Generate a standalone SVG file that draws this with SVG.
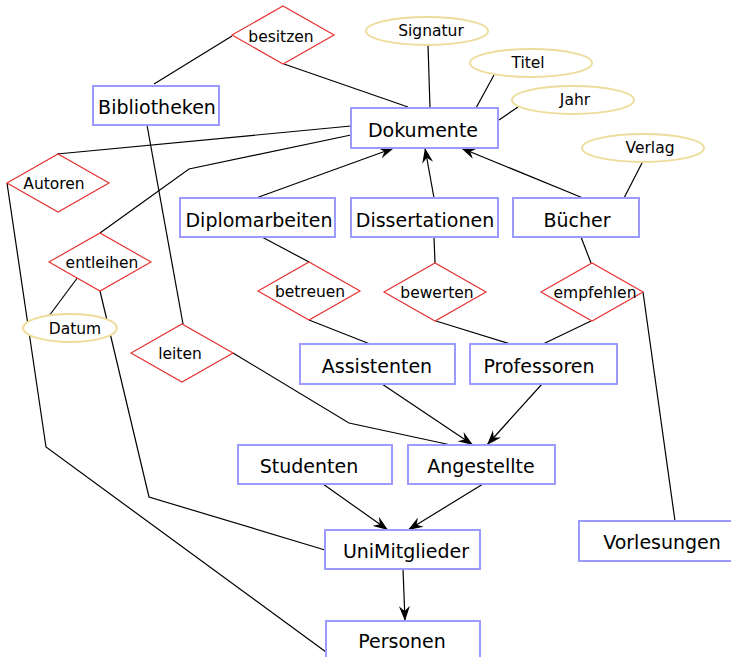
<svg xmlns="http://www.w3.org/2000/svg" width="731" height="657" viewBox="0 0 731 657">
  <style>
    .ent rect { fill: #ffffff; stroke: #9a9aff; stroke-width: 2; }
    .rel polygon { fill: #ffffff; stroke: #e83333; stroke-width: 1.2; }
    .att ellipse { fill: #ffffff; stroke: #eedc9c; stroke-width: 2; }
    text { font-family: "DejaVu Sans", "Liberation Sans", sans-serif; fill: #000000; text-anchor: middle; }
    .ent text { font-size: 19px; }
    .rel text, .att text { font-size: 15.5px; }
    .edges path { fill: none; stroke: #000000; stroke-width: 1.2; }
    .isa { marker-end: url(#arrow); }
  </style>
  <defs>
    <marker id="arrow" viewBox="-15 -6 16 12" refX="0" refY="0" markerWidth="16" markerHeight="12" markerUnits="userSpaceOnUse" orient="auto">
      <path d="M0,0 L-15,-5.5 L-10,0 L-15,5.5 Z" fill="#000000"/>
    </marker>
  </defs>
  <rect width="731" height="657" fill="#ffffff"/>

  <!-- connectors -->
  <g class="edges">
    <path d="M232,36 L154,84"/>
    <path d="M284,64 L408,107"/>
    <path d="M428,45 L430,108"/>
    <path d="M494,75 L476,108"/>
    <path d="M518,107 L499,120"/>
    <path d="M642,163 L624,198"/>
    <path d="M351,126 L57,154"/>
    <path d="M351,135 L189,169 L100,233"/>
    <path class="isa" d="M256,198 L394,148"/>
    <path class="isa" d="M434,198 L425,148"/>
    <path class="isa" d="M583,198 L461,148"/>
    <path d="M581,237 L591,263"/>
    <path d="M434,237 L435,263"/>
    <path d="M262,237 L309,262"/>
    <path d="M309,320 L370,344"/>
    <path d="M436,321 L510,344"/>
    <path d="M591,321 L543,344"/>
    <path d="M643,292 L675,521"/>
    <path class="isa" d="M382,384 L473,445"/>
    <path class="isa" d="M542,384 L487,445"/>
    <path d="M233,353 L349,423 L451,445"/>
    <path d="M147,125 L183,324"/>
    <path d="M100,291 L149,497 L325,550"/>
    <path d="M78,277 L49,316"/>
    <path d="M7,183 L46,447 L326,652"/>
    <path class="isa" d="M323,484 L388,530"/>
    <path class="isa" d="M483,484 L408,530"/>
    <path class="isa" d="M403,569 L405,621"/>
  </g>

  <!-- entities -->
  <g id="bibliotheken" class="ent"><rect x="93" y="86" width="126" height="39"/><text x="157" y="114">Bibliotheken</text></g>
  <g id="dokumente" class="ent"><rect x="351" y="108" width="147" height="40"/><text x="423" y="137">Dokumente</text></g>
  <g id="diplomarbeiten" class="ent"><rect x="180" y="198" width="155" height="39"/><text x="259" y="227">Diplomarbeiten</text></g>
  <g id="dissertationen" class="ent"><rect x="351" y="198" width="147" height="39"/><text x="425" y="227">Dissertationen</text></g>
  <g id="buecher" class="ent"><rect x="513" y="198" width="126" height="39"/><text x="577" y="227">Bücher</text></g>
  <g id="assistenten" class="ent"><rect x="300" y="344" width="155" height="40"/><text x="377" y="373">Assistenten</text></g>
  <g id="professoren" class="ent"><rect x="470" y="344" width="147" height="40"/><text x="539" y="373">Professoren</text></g>
  <g id="studenten" class="ent"><rect x="238" y="445" width="154" height="39"/><text x="309" y="473">Studenten</text></g>
  <g id="angestellte" class="ent"><rect x="408" y="445" width="147" height="39"/><text x="481" y="473">Angestellte</text></g>
  <g id="unimitglieder" class="ent"><rect x="325" y="530" width="155" height="39"/><text x="406" y="558">UniMitglieder</text></g>
  <g id="personen" class="ent"><rect x="326" y="621" width="154" height="40"/><text x="402" y="648">Personen</text></g>
  <g id="vorlesungen" class="ent"><rect x="579" y="521" width="158" height="40"/><text x="662" y="549">Vorlesungen</text></g>

  <!-- relationships -->
  <g id="besitzen" class="rel"><polygon points="232,35 283,6 334,35 283,64"/><text x="281" y="42">besitzen</text></g>
  <g id="autoren" class="rel"><polygon points="7,183 58,154 109,183 58,212"/><text x="54" y="189">Autoren</text></g>
  <g id="entleihen" class="rel"><polygon points="49,262 100,233 151,262 100,291"/><text x="102" y="268">entleihen</text></g>
  <g id="betreuen" class="rel"><polygon points="258,291 309,262 360,291 309,320"/><text x="310" y="297">betreuen</text></g>
  <g id="leiten" class="rel"><polygon points="131,353 182,324 233,353 182,382"/><text x="180" y="359">leiten</text></g>
  <g id="bewerten" class="rel"><polygon points="384,292 435,263 486,292 435,321"/><text x="437" y="298">bewerten</text></g>
  <g id="empfehlen" class="rel"><polygon points="541,292 592,263 643,292 592,321"/><text x="595" y="298">empfehlen</text></g>

  <!-- attributes -->
  <g id="signatur" class="att"><ellipse cx="427" cy="31" rx="61" ry="14"/><text x="431" y="36">Signatur</text></g>
  <g id="titel" class="att"><ellipse cx="531" cy="63" rx="61" ry="14"/><text x="528" y="68">Titel</text></g>
  <g id="jahr" class="att"><ellipse cx="573" cy="100" rx="61" ry="14"/><text x="575" y="105">Jahr</text></g>
  <g id="verlag" class="att"><ellipse cx="643" cy="148" rx="61" ry="14"/><text x="650" y="153">Verlag</text></g>
  <g id="datum" class="att"><ellipse cx="70" cy="328" rx="47" ry="14"/><text x="75" y="334">Datum</text></g>
</svg>
